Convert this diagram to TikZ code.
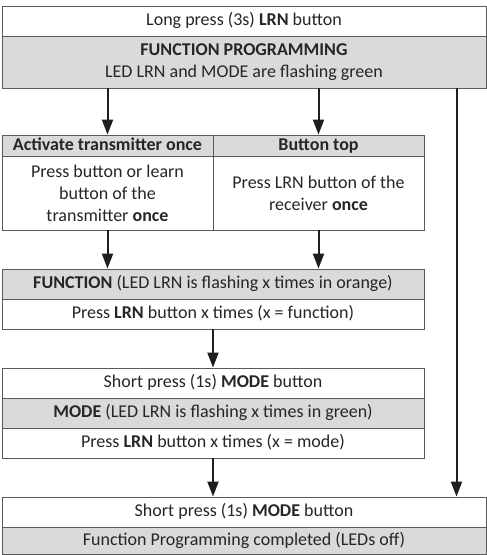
\documentclass[tikz,border=0pt]{standalone}
\usepackage{fontspec}
\setmainfont{Carlito}
\usetikzlibrary{arrows.meta}
\definecolor{cellgray}{HTML}{DADADA}
\definecolor{cellline}{HTML}{5A5A5A}
\definecolor{arrowcol}{HTML}{1E1E1E}
\begin{document}
\begin{tikzpicture}[x=1pt,y=-1pt,
  cell/.style={draw=cellline,line width=0.9pt,rectangle,inner sep=0pt,align=center,
    font=\fontsize{18}{22}\selectfont,text=black!85},
  oneline/.style={text height=12.5pt,text depth=3.5pt},
  wcell/.style={cell,fill=white},
  gcell/.style={cell,fill=cellgray},
  arr/.style={draw=arrowcol,line width=2pt,-{Triangle[width=11pt,length=15pt]}}]
\useasboundingbox (0,0) rectangle (487,555);
\fill[white] (0,0) rectangle (487,555);
% top block
\node[wcell,oneline,minimum width=484pt,minimum height=30pt] (A) at (244,21) {Long press (3s) \textbf{LRN} button};
\node[gcell,minimum width=484pt,minimum height=52pt] (B) at (244,62) {\textbf{FUNCTION PROGRAMMING}\\LED LRN and MODE are flashing green};
% two columns
\node[gcell,oneline,minimum width=211pt,minimum height=21pt] (C1) at (107.5,145.5) {\textbf{Activate transmitter once}};
\node[gcell,oneline,minimum width=211pt,minimum height=21pt] (C2) at (318.5,145.5) {\textbf{Button top}};
\node[wcell,minimum width=211pt,minimum height=74pt] (D1) at (107.5,193) {Press button or learn\\button of the\\transmitter \textbf{once}};
\node[wcell,minimum width=211pt,minimum height=74pt] (D2) at (318.5,193) {Press LRN button of the\\receiver \textbf{once}};
% function block
\node[gcell,oneline,minimum width=422pt,minimum height=30pt] (E) at (213,284) {\textbf{FUNCTION} (LED LRN is flashing x times in orange)};
\node[wcell,oneline,minimum width=422pt,minimum height=30pt] (F) at (213,314) {Press \textbf{LRN} button x times (x = function)};
% mode block
\node[wcell,oneline,minimum width=422pt,minimum height=30pt] (G) at (213,383) {Short press (1s) \textbf{MODE} button};
\node[gcell,oneline,minimum width=422pt,minimum height=30pt] (H) at (213,413) {\textbf{MODE} (LED LRN is flashing x times in green)};
\node[wcell,oneline,minimum width=422pt,minimum height=30pt] (I) at (213,443) {Press \textbf{LRN} button x times (x = mode)};
% final block
\node[wcell,oneline,minimum width=484pt,minimum height=30pt] (J) at (244,512) {Short press (1s) \textbf{MODE} button};
\node[gcell,oneline,minimum width=484pt,minimum height=27pt] (K) at (244,540.5) {Function Programming completed (LEDs off)};
% connectors
\coordinate (rx) at (456.5,0);
\draw[arr] (B.south -| C1) -- (C1.north);
\draw[arr] (B.south -| C2) -- (C2.north);
\draw[arr] (D1.south) -- (D1.south |- E.north);
\draw[arr] (D2.south) -- (D2.south |- E.north);
\draw[arr] (F.south) -- (G.north);
\draw[arr] (I.south) -- (I.south |- J.north);
\draw[arr] (B.south -| rx) -- (J.north -| rx);
\end{tikzpicture}
\end{document}
